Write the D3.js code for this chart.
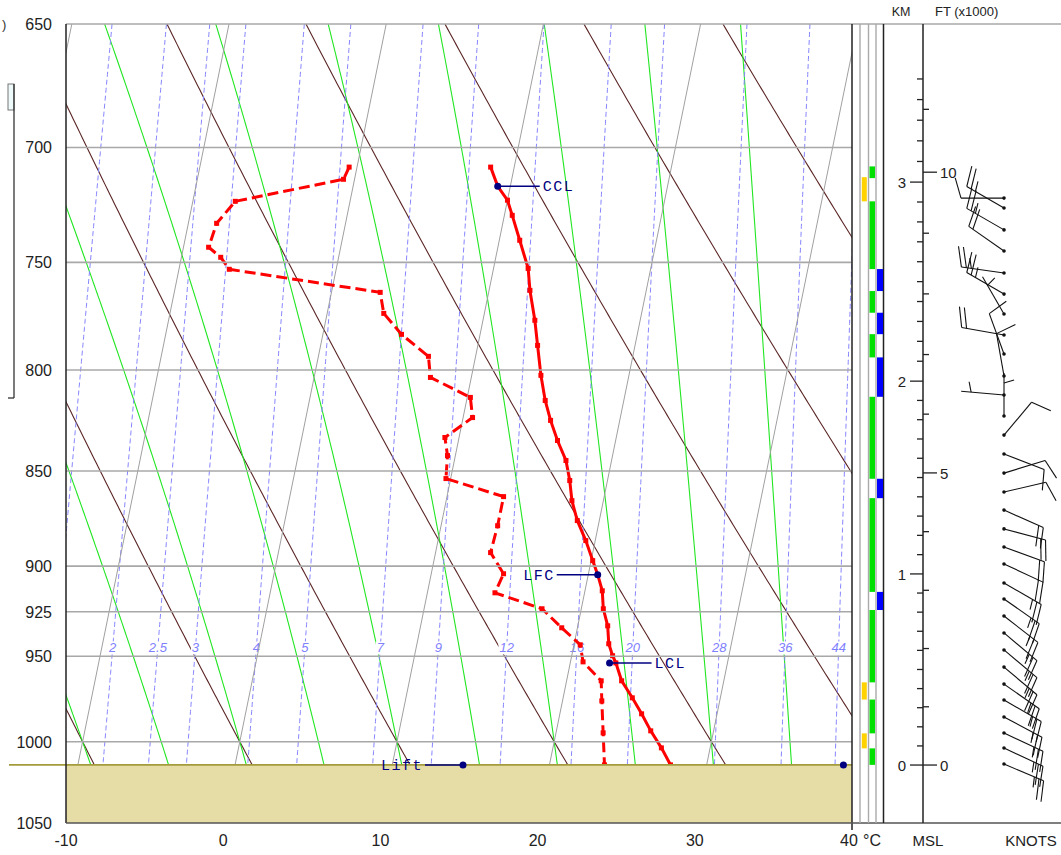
<!DOCTYPE html>
<html><head><meta charset="utf-8">
<script src="https://cdn.jsdelivr.net/npm/d3@7"></script>
<style>
html,body{margin:0;padding:0;background:#fff;}
svg{display:block;font-family:"Liberation Sans",Arial,sans-serif;}
</style></head><body>
<svg id="chart" width="1061" height="855"></svg>
<script>
// ---- Sounding: temperature (°C) at pressure levels (hPa)
const tempP = [708.3,716.5,722.5,729.1,740.1,752.7,762.7,776.5,788.3,802.6,814.8,824.6,834.6,844.7,854.9,865.3,875.7,886.3,897.0,904.6,913.4,923.3,932.8,942.9,949.7,953.8,964.1,974.0,983.4,993.5,1003.7,1014.0];
const tempC = [8.5,9.2,10.0,10.5,11.3,12.2,12.6,13.3,13.8,14.4,15.0,15.6,16.3,17.1,17.6,18.0,18.6,19.4,20.1,20.6,21.1,21.4,21.9,22.2,22.6,22.9,23.5,24.4,25.2,26.0,26.9,27.7];
// ---- Sounding: dew point (°C)
const dewP = [708.3,713.5,723.0,732.6,743.2,747.7,753.1,763.6,773.3,783.1,793.5,803.6,813.3,823.2,833.1,842.2,853.9,863.2,878.4,892.7,904.1,914.5,923.3,933.9,943.5,953.2,964.1,975.8,994.7,1014.0];
const dewC = [-0.5,-0.7,-7.3,-8.2,-8.4,-7.5,-6.8,3.1,3.6,5.0,7.0,7.4,10.2,10.6,9.1,9.5,9.7,13.6,13.6,13.5,14.6,14.3,17.5,19.0,20.4,20.8,22.2,22.5,23.0,23.5];

const surfaceP = 1014;
// Parcel levels
const cclLevel = {p:716.5, t:9.2};
const lfcLevel = {p:904.6, t:20.6};
const lclLevel = {p:953.8, t:22.5};
const liftT = 14.5;       // at surface
const convectiveT = 38.7; // at surface

// ---- Axes
const pressureTicks = [650,700,750,800,850,900,925,950,1000,1050];
const tempTicks = [-10,0,10,20,30,40];
const isotherms = [-30,-20,-10,0,10,20,30,40];
const dryAdiabats = [-10,0,10,20,30,40,50,60,70];      // theta, °C
const moistAdiabats = [-10,-5,0,5,10,15,20,25,30,35];  // theta-w, °C
const mixingRatios = [1.5,2,2.5,3,4,5,7,9,12,16,20,28,36,44]; // g/kg
const mixingLabelled = [2,2.5,3,4,5,7,9,12,16,20,28,36,44];
const mixingLabelP = 945;

// ---- Layer bands (hPa top, bottom)
const bandGreen = [[708,713],[723,753],[763,773],[783,794],[813,854],[864,914],[924,965],[975,995],[1004,1014]];
const bandBlue = [[753,763],[773,783],[794,813],[854,864],[914,924]];
const bandYellow = [[712.6,723],[965,975],[995,1004]];

// ---- Height axis: km above MSL vs pressure
const heightKm = [0,1,2,3,3.5];
const heightP = [1014.1,904.2,805.4,714.7,671.8];
const kmTicks = [0,1,2,3];
const ftTicks = [0,5,10];

// ---- Winds
const windP = [721.6,725.9,735.5,744.9,754.8,764.4,773.6,783.4,792.4,802.9,812.1,822.4,831.9,841.4,851.1,860.8,870.2,880.1,889.7,898.8,909.1,917.9,927.3,936.8,946.4,956.2,966.0,975.3,985.3,994.8,1003.8,1013.5];
const windDir = [270,300,300,305,278,300,330,280,340,350,275,360,40,111,73,77,114,105,110,115,120,125,128,130,130,130,125,120,118,115,115,113];
const windKt = [10,25,25,20,25,25,5,20,10,10,5,5,10,10,10,10,20,20,20,20,25,25,25,25,25,25,25,25,25,25,25,25];

// ---------------------------------------------------------------
const svg = d3.select("#chart");
const L = 66, R = 852, T = 24, B = 823;
const x = d3.scaleLinear().domain([-10,40]).range([L,R]);
const y = d3.scaleLog().domain([650,1050]).range([T,B]);
const SKEW = 10.37; // °C shift across the full pressure range
const frac = p => Math.log(1050/p)/Math.log(1050/650);
const X = (t,p) => x(t + SKEW*frac(p));

svg.append("defs").append("clipPath").attr("id","plot")
  .append("rect").attr("x",L).attr("y",T).attr("width",R-L).attr("height",B-T);
const plot = svg.append("g").attr("clip-path","url(#plot)");
const line = d3.line().x(d=>X(d.t,d.p)).y(d=>y(d.p));

const pRange = d3.range(650,1050.01,2);

// dry adiabats
plot.append("g").selectAll("path").data(dryAdiabats).join("path")
  .attr("d", th => line(pRange.map(p=>({p, t:(th+273.15)*Math.pow(p/1000,0.2857)-273.15}))))
  .attr("fill","none").attr("stroke","#5b2525").attr("stroke-width",1.1);

// moist adiabats
const Rd=287.04, Cp=1005.7, Lv=2.501e6, EPS=0.622;
const satVap = tc => 6.112*Math.exp(17.67*tc/(tc+243.5));
function moistGrad(p,tk){
  const es = satVap(tk-273.15), rs = EPS*es/(p-es);
  return ((Rd*tk + Lv*rs)/p)/(Cp + (Lv*Lv*rs*EPS)/(Rd*tk*tk));
}
function moistLine(thw){
  const up=[]; let tk=thw+273.15, p=1000;
  up.push({p, t:tk-273.15});
  while(p>650){const dp=-2; const k1=moistGrad(p,tk); const k2=moistGrad(p+dp/2,tk+k1*dp/2); tk+=k2*dp; p+=dp; up.push({p,t:tk-273.15});}
  const down=[]; tk=thw+273.15; p=1000;
  while(p<1050){const dp=2; const k1=moistGrad(p,tk); const k2=moistGrad(p+dp/2,tk+k1*dp/2); tk+=k2*dp; p+=dp; down.push({p,t:tk-273.15});}
  return down.reverse().concat(up);
}
plot.append("g").selectAll("path").data(moistAdiabats).join("path")
  .attr("d", th => line(moistLine(th)))
  .attr("fill","none").attr("stroke","#22e622").attr("stroke-width",1.1);

// mixing ratio lines
const tdFromW = (w,p) => { const e = p*w/(622+w); const a = Math.log(e/6.112); return 243.5*a/(17.67-a); };
plot.append("g").selectAll("path").data(mixingRatios).join("path")
  .attr("d", w => line(pRange.map(p=>({p, t:tdFromW(w,p)}))))
  .attr("fill","none").attr("stroke","#8585ff").attr("stroke-width",1).attr("stroke-dasharray","5,3");

// mixing ratio labels on a white patch
const mlab = plot.append("g");
mixingLabelled.forEach(w=>{
  const g = mlab.append("g");
  const t = g.append("text").attr("x",X(tdFromW(w,mixingLabelP),mixingLabelP)).attr("y",y(mixingLabelP)+5)
    .attr("text-anchor","middle").attr("font-size",13).attr("font-style","italic").attr("fill","#8080ff").text(String(w));
  const bb = t.node().getBBox();
  g.insert("rect","text").attr("x",bb.x-1).attr("y",bb.y+1).attr("width",bb.width+2).attr("height",bb.height-2).attr("fill","#fff");
});

// ground
svg.append("rect").attr("x",L).attr("y",y(surfaceP)).attr("width",R-L).attr("height",B-y(surfaceP)).attr("fill","#e6dca6");

// isobars
svg.append("g").selectAll("line").data(pressureTicks.filter(p=>p<1050)).join("line")
  .attr("x1",L).attr("x2",p=>p===650?1061:R).attr("y1",p=>y(p)).attr("y2",p=>y(p))
  .attr("stroke","#a8a8a8").attr("stroke-width",1.6);

// isotherms
plot.append("g").selectAll("line").data(isotherms).join("line")
  .attr("x1",t=>X(t,1050)).attr("y1",y(1050)).attr("x2",t=>X(t,650)).attr("y2",y(650))
  .attr("stroke","#a0a0a0").attr("stroke-width",1);

// ground line
svg.append("line").attr("x1",9).attr("x2",R).attr("y1",y(surfaceP)).attr("y2",y(surfaceP))
  .attr("stroke","#a39b3c").attr("stroke-width",1.6);

// profiles
const dew = dewP.map((p,i)=>({p,t:dewC[i]}));
const tmp = tempP.map((p,i)=>({p,t:tempC[i]}));
plot.append("path").attr("d",line(dew)).attr("fill","none").attr("stroke","#ff0000").attr("stroke-width",3).attr("stroke-dasharray","11,5");
plot.append("path").attr("d",line(tmp)).attr("fill","none").attr("stroke","#ff0000").attr("stroke-width",3);
plot.append("g").selectAll("rect").data(dew.concat(tmp)).join("rect")
  .attr("x",d=>X(d.t,d.p)-2.5).attr("y",d=>y(d.p)-2.5).attr("width",5).attr("height",5).attr("fill","#ff0000");

// parcel markers
const navy = "#000080";
const mk = svg.append("g").attr("font-family","'Liberation Mono',monospace").attr("font-size",15).attr("fill",navy).attr("letter-spacing",1.5);
function marker(t,p,label,side,len){
  const cx = X(t,p), cy = y(p);
  const ex = cx + side*len;
  mk.append("line").attr("x1",cx).attr("x2",ex).attr("y1",cy).attr("y2",cy).attr("stroke",navy).attr("stroke-width",1.5);
  mk.append("circle").attr("cx",cx).attr("cy",cy).attr("r",3.5).attr("fill",navy);
  mk.append("text").attr("x",side>0?ex+3:ex-2).attr("y",cy+5).attr("text-anchor",side>0?"start":"end").text(label);
}
marker(cclLevel.t,cclLevel.p,"CCL",1,42);
marker(lfcLevel.t,lfcLevel.p,"LFC",-1,41);
marker(lclLevel.t,lclLevel.p,"LCL",1,42);
marker(liftT,surfaceP,"Lift",-1,38);
mk.append("circle").attr("cx",X(convectiveT,surfaceP)).attr("cy",y(surfaceP)).attr("r",3.5).attr("fill",navy);

// frame
svg.append("line").attr("x1",L).attr("x2",L).attr("y1",T).attr("y2",B).attr("stroke","#222").attr("stroke-width",1.5);
svg.append("line").attr("x1",R).attr("x2",R).attr("y1",T).attr("y2",830).attr("stroke","#222").attr("stroke-width",1.5);
svg.append("line").attr("x1",L).attr("x2",1061).attr("y1",B).attr("y2",B).attr("stroke","#555").attr("stroke-width",1.6);

// axis labels
svg.append("g").selectAll("text").data(pressureTicks).join("text")
  .attr("x",52).attr("y",p=>y(p)+6).attr("text-anchor","end").attr("font-size",16).attr("fill","#222").text(p=>p);
svg.append("g").selectAll("text").data(tempTicks).join("text")
  .attr("x",t=>x(t)-(t===40?3:0)).attr("y",846).attr("text-anchor","middle").attr("font-size",16).attr("fill","#222").text(t=>t);
svg.append("text").attr("x",863).attr("y",846).attr("font-size",16).attr("fill","#222").text("°C");

// left-hand fragment
svg.append("text").attr("x",2).attr("y",29).attr("font-size",13).attr("fill","#333").text(")");
svg.append("rect").attr("x",8).attr("y",84).attr("width",6).attr("height",26).attr("fill","#eefafa").attr("stroke","#777").attr("stroke-width",1);
svg.append("line").attr("x1",14).attr("x2",14).attr("y1",84).attr("y2",398).attr("stroke","#222").attr("stroke-width",1.2);
svg.append("line").attr("x1",8).attr("x2",14).attr("y1",398).attr("y2",398).attr("stroke","#222").attr("stroke-width",1.2);

// ---- right panel: layer columns
const cols = [860,868.5,876];
svg.append("g").selectAll("line").data(cols).join("line")
  .attr("x1",c=>c).attr("x2",c=>c).attr("y1",T).attr("y2",B).attr("stroke","#aaa").attr("stroke-width",1.4);
svg.append("line").attr("x1",883.5).attr("x2",883.5).attr("y1",T).attr("y2",B).attr("stroke","#222").attr("stroke-width",1.5);
function bands(data, x0, w, color){
  svg.append("g").selectAll("rect").data(data).join("rect")
    .attr("x",x0).attr("width",w).attr("y",d=>y(d[0])).attr("height",d=>y(d[1])-y(d[0])).attr("fill",color);
}
bands(bandYellow,861.8,5,"#ffd200");
bands(bandGreen,869.5,5.5,"#00e000");
bands(bandBlue,877,6,"#0000ff");

// ---- height axis
const kmToP = d3.scaleLinear().domain(heightKm).range(heightP.map(Math.log));
const yKm = km => y(Math.exp(kmToP(km)));
const AX = 923;
svg.append("line").attr("x1",AX).attr("x2",AX).attr("y1",T).attr("y2",B).attr("stroke","#222").attr("stroke-width",1.5);
const kmMinor = d3.range(0,3.501,0.1);
svg.append("g").selectAll("line").data(kmMinor).join("line")
  .attr("x1",d=>Math.abs(d-Math.round(d))<1e-6?910:917).attr("x2",AX).attr("y1",d=>yKm(d)).attr("y2",d=>yKm(d))
  .attr("stroke","#222").attr("stroke-width",1.3);
svg.append("g").selectAll("text").data(kmTicks).join("text")
  .attr("x",902).attr("y",d=>yKm(d)+6).attr("text-anchor","middle").attr("font-size",15).attr("fill","#222").text(d=>d);
const ftMinor = d3.range(0,11.01,1);
svg.append("g").selectAll("line").data(ftMinor).join("line")
  .attr("x1",AX).attr("x2",d=>d%5===0?937:929).attr("y1",d=>yKm(d*0.3048)).attr("y2",d=>yKm(d*0.3048))
  .attr("stroke","#222").attr("stroke-width",1.3);
svg.append("g").selectAll("text").data(ftTicks).join("text")
  .attr("x",940).attr("y",d=>yKm(d*0.3048)+6).attr("font-size",15).attr("fill","#222").text(d=>d);

svg.append("text").attr("x",901).attr("y",16).attr("text-anchor","middle").attr("font-size",12.5).attr("fill","#222").text("KM");
svg.append("text").attr("x",935).attr("y",16).attr("font-size",13).attr("fill","#222").text("FT (x1000)");
svg.append("text").attr("x",928).attr("y",846).attr("text-anchor","middle").attr("font-size",15).attr("fill","#222").text("MSL");
svg.append("text").attr("x",1031).attr("y",846).attr("text-anchor","middle").attr("font-size",15).attr("fill","#222").text("KNOTS");

// ---- wind barbs
const BX = 1004, STAFF = 43, FL = 21, SP = 5, ANG = 74*Math.PI/180;
const wg = svg.append("g").attr("stroke","#111").attr("stroke-width",1.1).attr("fill","none");
windP.forEach((p,i)=>{
  const by = y(p), a = windDir[i]*Math.PI/180;
  const ux = Math.sin(a), uy = -Math.cos(a);
  const ex = BX+STAFF*ux, ey = by+STAFF*uy;
  const fx = ux*Math.cos(ANG)-uy*Math.sin(ANG), fy = ux*Math.sin(ANG)+uy*Math.cos(ANG);
  svg.append("circle").attr("cx",BX).attr("cy",by).attr("r",1.8).attr("fill","#111");
  if (windKt[i] <= 0) return;
  wg.append("line").attr("x1",BX).attr("y1",by).attr("x2",ex).attr("y2",ey);
  let s = windKt[i], k = 0;
  while (s >= 10) {
    const px = ex - k*SP*ux, py = ey - k*SP*uy;
    wg.append("line").attr("x1",px).attr("y1",py).attr("x2",px+FL*fx).attr("y2",py+FL*fy);
    s -= 10; k++;
  }
  if (s >= 5) {
    const off = k===0 ? 2*SP : k*SP;
    const px = ex - off*ux, py = ey - off*uy;
    wg.append("line").attr("x1",px).attr("y1",py).attr("x2",px+FL/2*fx).attr("y2",py+FL/2*fy);
  }
});
</script>
</body></html>
